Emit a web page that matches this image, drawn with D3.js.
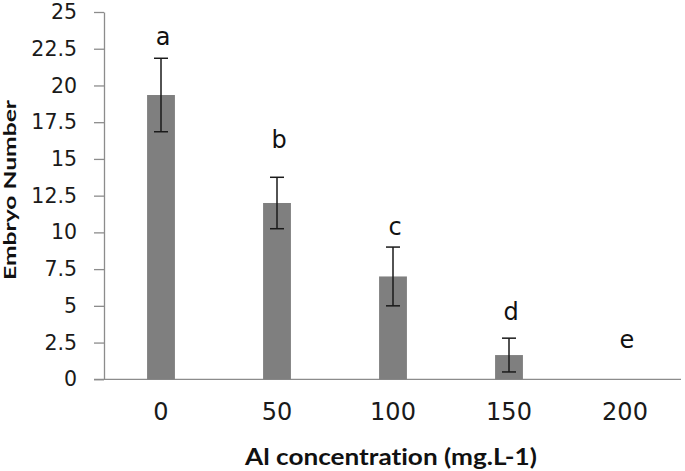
<!DOCTYPE html>
<html>
<head>
<meta charset="utf-8">
<script src="https://cdn.jsdelivr.net/npm/d3@7"></script>
<style>
  html, body { margin: 0; padding: 0; background: #fff; }
  svg { display: block; }
  text { font-variant-ligatures: none; }
</style>
</head>
<body>
<svg id="chart" width="685" height="471"></svg>
<script>
// ---- data ----
const categories = ["0", "50", "100", "150", "200"];
const means = [19.35, 12.0, 7.0, 1.65, 0];
const errors = [2.5, 1.75, 2.0, 1.15, 0];
const letters = ["a", "b", "c", "d", "e"];
const letterAt = [22.77, 15.76, 9.83, 4.04, 2.13]; // letter baselines, data units
const yTicks = [0, 2.5, 5, 7.5, 10, 12.5, 15, 17.5, 20, 22.5, 25];
const yTickLabels = ["0", "2.5", "5", "7.5", "10", "12.5", "15", "17.5", "20", "22.5", "25"];
const xTitle = "Al concentration (mg.L-1)";
const yTitle = "Embryo Number";

// ---- layout ----
const svg = d3.select("#chart");
const axisColor = "#8c8c8c";
const x = d3.scaleBand().domain(categories).range([103, 683]).paddingInner(0.76).paddingOuter(0.38);
const y = d3.scaleLinear().domain([0, 25]).range([379.3, 12]);

// y axis
const yAxis = svg.append("g").attr("transform", "translate(104,0)")
  .call(d3.axisLeft(y).tickValues(yTicks).tickFormat((d, i) => yTickLabels[i])
    .tickSize(10).tickSizeOuter(0).tickPadding(17));
yAxis.select(".domain").attr("stroke", axisColor).attr("stroke-width", 1.3);
yAxis.selectAll(".tick line").attr("stroke", axisColor).attr("stroke-width", 1.3);
yAxis.selectAll(".tick text").attr("fill", "#1a1a1a")
  .style("font-family", "'DejaVu Sans', sans-serif").style("font-size", "20.5px");

// x axis
const xAxis = svg.append("g").attr("transform", `translate(0,${y(0)})`)
  .call(d3.axisBottom(x).tickSize(0).tickPadding(23.5));
xAxis.select(".domain").remove();
xAxis.selectAll(".tick text").attr("fill", "#1a1a1a")
  .style("font-family", "'DejaVu Sans', sans-serif").style("font-size", "24px");
svg.append("line")
  .attr("x1", 94).attr("x2", 681).attr("y1", y(0)).attr("y2", y(0))
  .attr("stroke", axisColor).attr("stroke-width", 1.3);

// bars
svg.append("g").selectAll("rect").data(categories).join("rect")
  .attr("x", d => x(d))
  .attr("width", x.bandwidth())
  .attr("y", (d, i) => y(means[i]))
  .attr("height", (d, i) => y(0) - y(means[i]))
  .attr("fill", "#7f7f7f");

// error bars
const capW = 7;
const eb = svg.append("g").attr("stroke", "#1a1a1a").attr("stroke-width", 1.5);
categories.forEach((c, i) => {
  if (errors[i] <= 0) return;
  const cx = x(c) + x.bandwidth() / 2;
  const hi = y(means[i] + errors[i]), lo = y(Math.max(0, means[i] - errors[i]));
  eb.append("line").attr("x1", cx).attr("x2", cx).attr("y1", hi).attr("y2", lo);
  eb.append("line").attr("x1", cx - capW).attr("x2", cx + capW).attr("y1", hi).attr("y2", hi);
  eb.append("line").attr("x1", cx - capW).attr("x2", cx + capW).attr("y1", lo).attr("y2", lo);
});

// significance letters
svg.append("g").selectAll("text").data(categories).join("text")
  .attr("x", d => x(d) + x.bandwidth() / 2 + 2)
  .attr("y", (d, i) => y(letterAt[i]))
  .attr("text-anchor", "middle")
  .attr("fill", "#111")
  .style("font-family", "'DejaVu Sans', sans-serif").style("font-size", "24px")
  .text((d, i) => letters[i]);

// stretch a text along its run to a target length, keeping its font size
function stretchTo(sel, target, base, transformPrefix) {
  sel.style("font-size", base + "px");
  const w = sel.node().getComputedTextLength();
  sel.attr("transform", `${transformPrefix} scale(${(target / w).toFixed(4)},1)`);
}

const xt = svg.append("text")
  .attr("text-anchor", "middle").attr("fill", "#111")
  .style("font-family", "Lato, sans-serif").style("font-weight", "bold")
  .text(xTitle);
stretchTo(xt, 292, 23, "translate(391,465)");

const yt = svg.append("text")
  .attr("text-anchor", "middle").attr("fill", "#111")
  .style("font-family", "Lato, sans-serif").style("font-weight", "bold")
  .text(yTitle);
stretchTo(yt, 180, 17.5, "translate(16,190) rotate(-90)");
</script>
</body>
</html>
